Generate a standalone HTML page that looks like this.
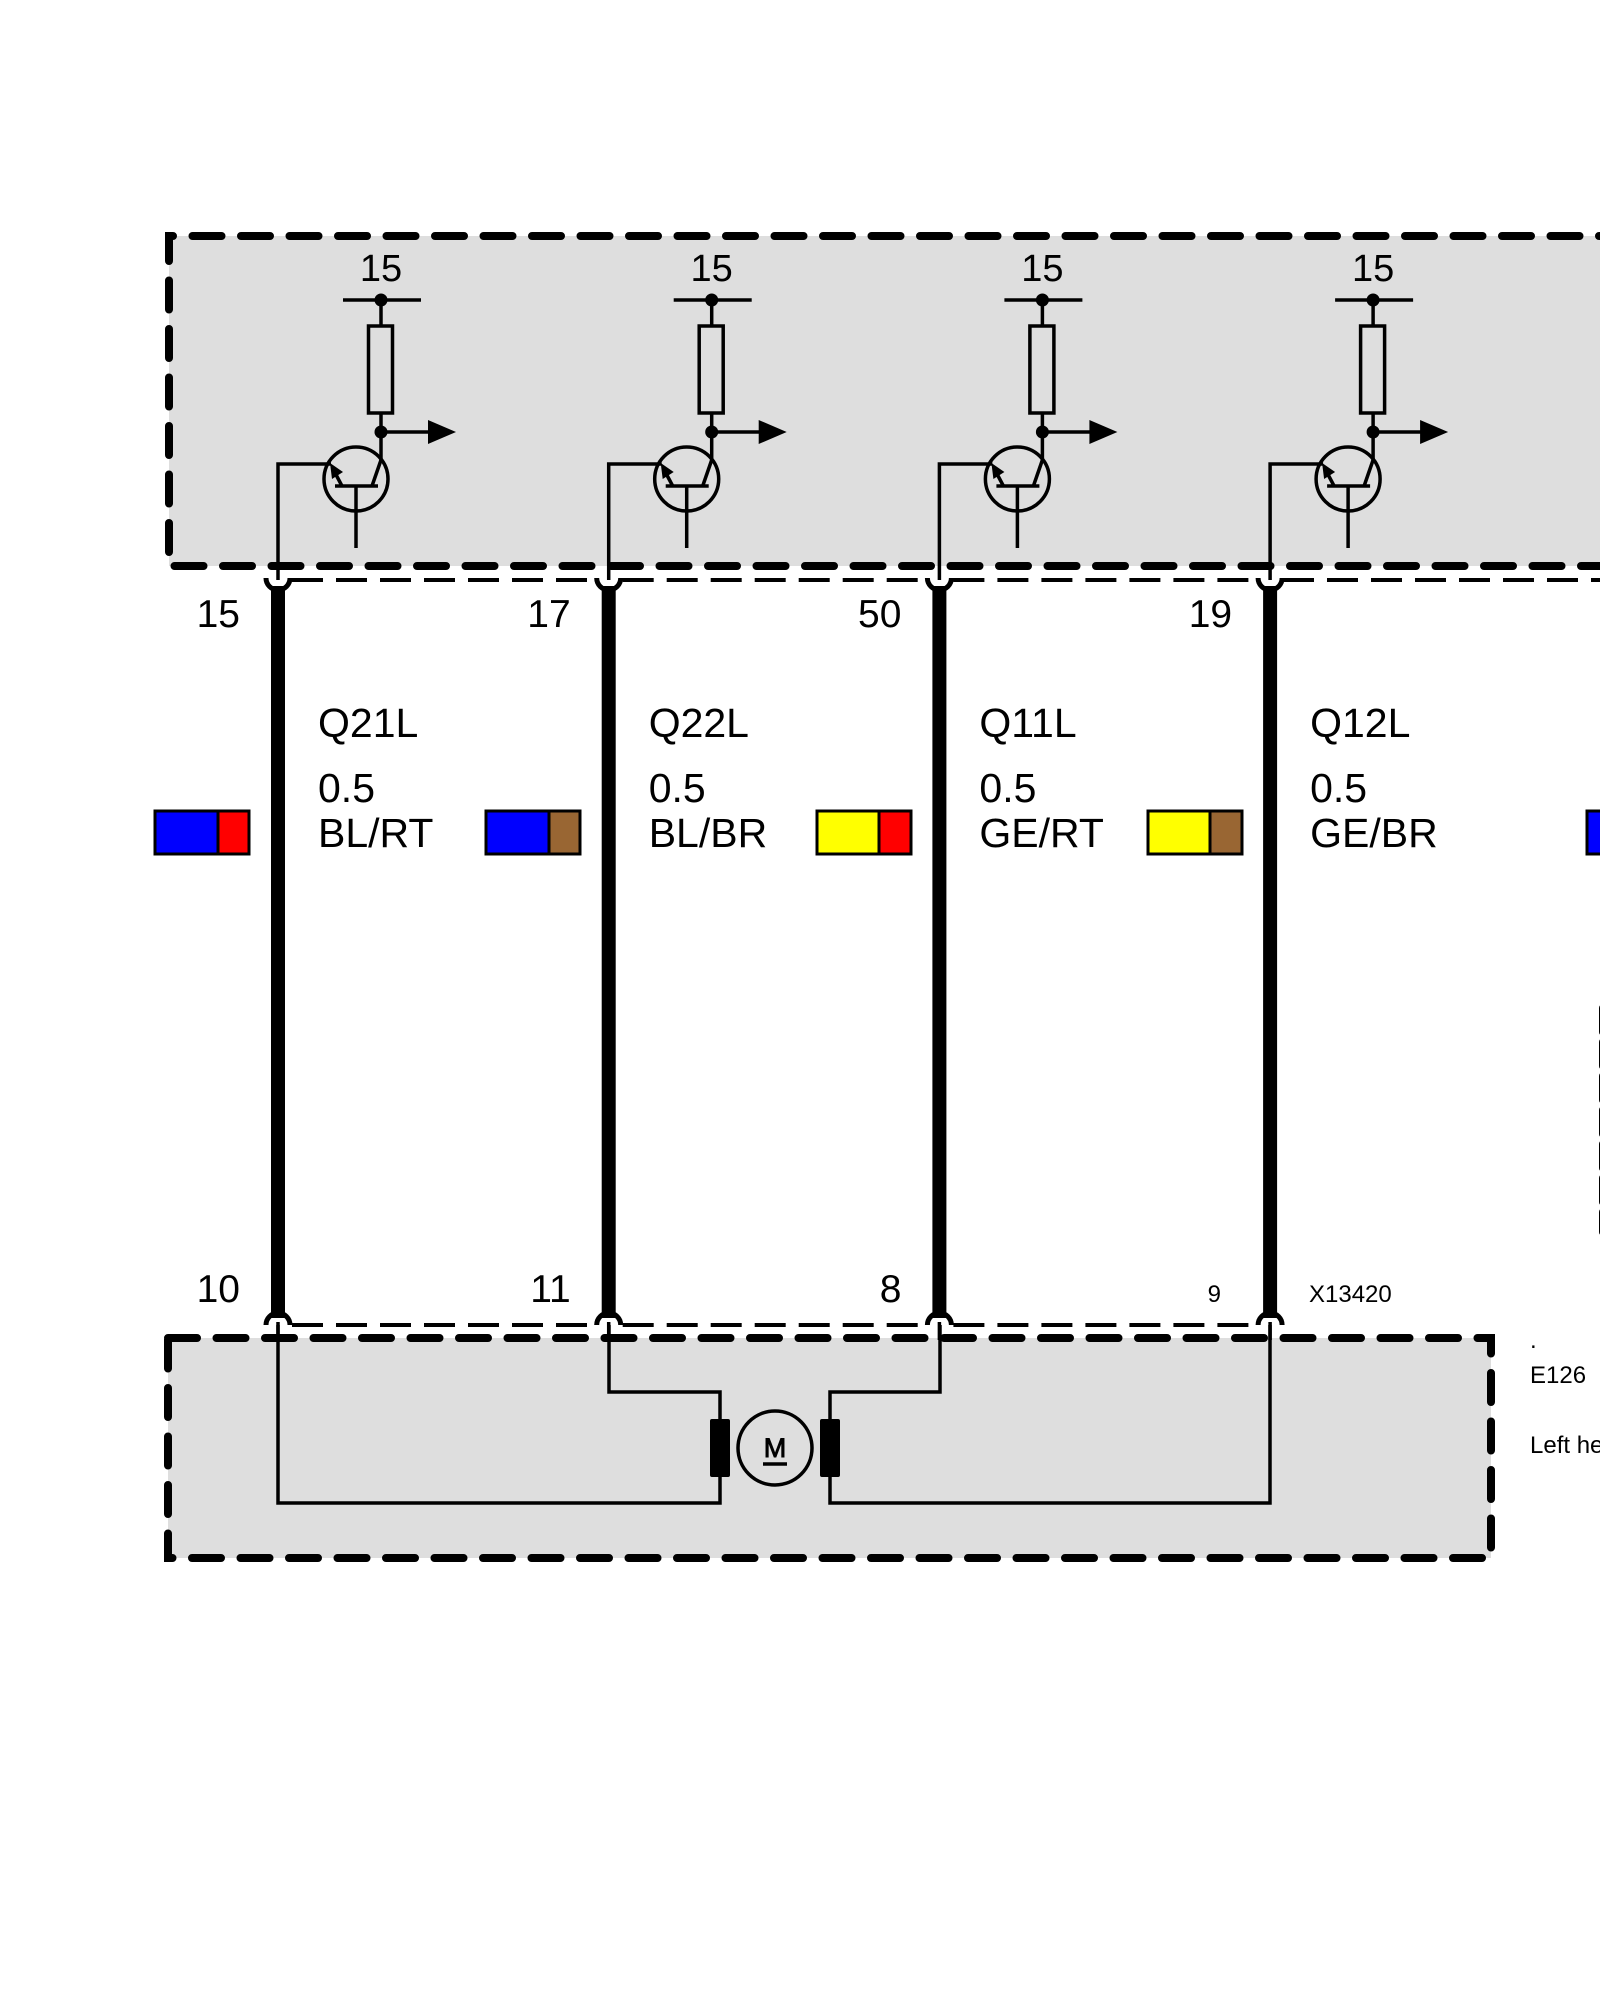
<!DOCTYPE html>
<html>
<head>
<meta charset="utf-8">
<style>
  html, body { margin:0; padding:0; background:#ffffff; }
  body { width:1600px; height:2000px; overflow:hidden; }
  svg { display:block; }
  text { font-family: "Liberation Sans", Arial, sans-serif; fill:#000; }
</style>
</head>
<body>
<svg width="1600" height="2000" viewBox="0 0 1600 2000" xmlns="http://www.w3.org/2000/svg">
  <defs>
    <g id="tr">
      <!-- supply bar and resistor -->
      <line x1="343" y1="300" x2="421" y2="300" stroke="#000" stroke-width="3.5"/>
      <circle cx="381" cy="300" r="6.5" fill="#000"/>
      <line x1="381" y1="300" x2="381" y2="326" stroke="#000" stroke-width="3.5"/>
      <rect x="368.5" y="326" width="24" height="87" fill="none" stroke="#000" stroke-width="3.5"/>
      <line x1="381" y1="413" x2="381" y2="461" stroke="#000" stroke-width="3.5"/>
      <circle cx="381" cy="432" r="6.5" fill="#000"/>
      <line x1="381" y1="432" x2="430" y2="432" stroke="#000" stroke-width="3.5"/>
      <polygon points="428,420 456,432 428,444" fill="#000"/>
      <!-- transistor -->
      <circle cx="356" cy="479" r="32" fill="none" stroke="#000" stroke-width="3.5"/>
      <line x1="335" y1="486" x2="378" y2="486" stroke="#000" stroke-width="3.5"/>
      <line x1="356" y1="486" x2="356" y2="548" stroke="#000" stroke-width="3.5"/>
      <line x1="372" y1="486" x2="381" y2="460" stroke="#000" stroke-width="3.5"/>
      <line x1="342" y1="486" x2="333" y2="469" stroke="#000" stroke-width="3.5"/>
      <polygon points="330,463 343,472 332,479" fill="#000"/>
      <polyline points="331,464 278,464 278,580" fill="none" stroke="#000" stroke-width="3.5"/>
      <!-- top connector cup -->
      <path d="M266,578 A12,12 0 0 0 290,578" fill="none" stroke="#000" stroke-width="5"/>
      <!-- thick wire -->
      <line x1="278" y1="586" x2="278" y2="1318" stroke="#000" stroke-width="14"/>
      <!-- bottom connector cap -->
      <path d="M266,1325 A12,12 0 0 1 290,1325" fill="none" stroke="#000" stroke-width="5"/>
      <line x1="278" y1="1322" x2="278" y2="1340" stroke="#000" stroke-width="3.5"/>
    </g>
    <g id="tdash">
      <line x1="292" y1="580" x2="597" y2="580" stroke="#000" stroke-width="4" stroke-dasharray="31 13"/>
    </g>
    <g id="bdash">
      <line x1="292" y1="1325" x2="597" y2="1325" stroke="#000" stroke-width="4" stroke-dasharray="31 13"/>
    </g>
  </defs>

  <!-- top box fill -->
  <rect x="169" y="236" width="1440" height="330" fill="#dedede"/>
  <!-- bottom box fill -->
  <rect x="168" y="1338" width="1323" height="220" fill="#dedede"/>

  <!-- thin dashed lines -->
  <use href="#tdash"/>
  <use href="#tdash" transform="translate(330.7,0)"/>
  <use href="#tdash" transform="translate(661.4,0)"/>
  <line x1="1283" y1="580" x2="1610" y2="580" stroke="#000" stroke-width="4" stroke-dasharray="31 13"/>
  <use href="#bdash"/>
  <use href="#bdash" transform="translate(330.7,0)"/>
  <use href="#bdash" transform="translate(661.4,0)"/>

  <!-- top box dashed border -->
  <path d="M1610,566 H169 V236 H1610" fill="none" stroke="#000" stroke-width="8" stroke-linecap="round" stroke-dasharray="29 19.5"/>

  <!-- bottom box dashed border -->
  <path d="M168,1338 H1491 V1558 H168 Z" fill="none" stroke="#000" stroke-width="8" stroke-linecap="round" stroke-dasharray="29 19.5"/>

  <!-- columns -->
  <use href="#tr"/>
  <use href="#tr" transform="translate(330.7,0)"/>
  <use href="#tr" transform="translate(661.4,0)"/>
  <use href="#tr" transform="translate(992.1,0)"/>

  <!-- top "15" labels -->
  <g font-size="38" text-anchor="middle">
    <text x="381" y="281">15</text>
    <text x="711.7" y="281">15</text>
    <text x="1042.4" y="281">15</text>
    <text x="1373.1" y="281">15</text>
  </g>

  <!-- wire pin numbers -->
  <g font-size="39" text-anchor="end">
    <text x="240" y="627">15</text>
    <text x="570.7" y="627">17</text>
    <text x="901.4" y="627">50</text>
    <text x="1232.1" y="627">19</text>
    <text x="240" y="1302">10</text>
    <text x="570.7" y="1302">11</text>
    <text x="901.4" y="1302">8</text>
  </g>
  <text x="1221" y="1302" font-size="24" text-anchor="end">9</text>
  <text x="1309" y="1302" font-size="24">X13420</text>

  <!-- wire descriptions -->
  <g font-size="41">
    <text x="318" y="737">Q21L</text>
    <text x="318" y="802">0.5</text>
    <text x="318" y="847">BL/RT</text>
    <text x="648.7" y="737">Q22L</text>
    <text x="648.7" y="802">0.5</text>
    <text x="648.7" y="847">BL/BR</text>
    <text x="979.4" y="737">Q11L</text>
    <text x="979.4" y="802">0.5</text>
    <text x="979.4" y="847">GE/RT</text>
    <text x="1310.1" y="737">Q12L</text>
    <text x="1310.1" y="802">0.5</text>
    <text x="1310.1" y="847">GE/BR</text>
  </g>

  <!-- color code boxes -->
  <g stroke="#000" stroke-width="3">
    <rect x="155" y="811" width="63" height="43" fill="#0000ff"/>
    <rect x="218" y="811" width="31" height="43" fill="#ff0000"/>
    <rect x="486" y="811" width="63" height="43" fill="#0000ff"/>
    <rect x="549" y="811" width="31" height="43" fill="#996633"/>
    <rect x="817" y="811" width="62" height="43" fill="#ffff00"/>
    <rect x="879" y="811" width="32" height="43" fill="#ff0000"/>
    <rect x="1148" y="811" width="62" height="43" fill="#ffff00"/>
    <rect x="1210" y="811" width="32" height="43" fill="#996633"/>
    <rect x="1587" y="811" width="40" height="43" fill="#0000ff"/>
  </g>

  <!-- partial dashed box at right edge -->
  <line x1="1603" y1="1008" x2="1603" y2="1232" stroke="#000" stroke-width="8" stroke-linecap="round" stroke-dasharray="24 10"/>

  <!-- bottom internal wiring -->
  <g fill="none" stroke="#000" stroke-width="3.5">
    <polyline points="278,1325 278,1503 720,1503 720,1477"/>
    <polyline points="609,1325 609,1392 720,1392 720,1419"/>
    <polyline points="940,1325 940,1392 830,1392 830,1419"/>
    <polyline points="1270,1325 1270,1503 830,1503 830,1477"/>
    <circle cx="775" cy="1448" r="37"/>
  </g>
  <rect x="710" y="1419" width="20" height="58" rx="2" fill="#000"/>
  <rect x="820" y="1419" width="20" height="58" rx="2" fill="#000"/>
  <text x="775" y="1457" font-size="27" text-anchor="middle" stroke="#000" stroke-width="0.9">M</text>
  <line x1="763" y1="1464" x2="787" y2="1464" stroke="#000" stroke-width="3.5"/>

  <!-- right side labels -->
  <text x="1530" y="1348" font-size="24">.</text>
  <text x="1530" y="1383" font-size="24">E126</text>
  <text x="1530" y="1453" font-size="24">Left headlight</text>
</svg>
</body>
</html>
